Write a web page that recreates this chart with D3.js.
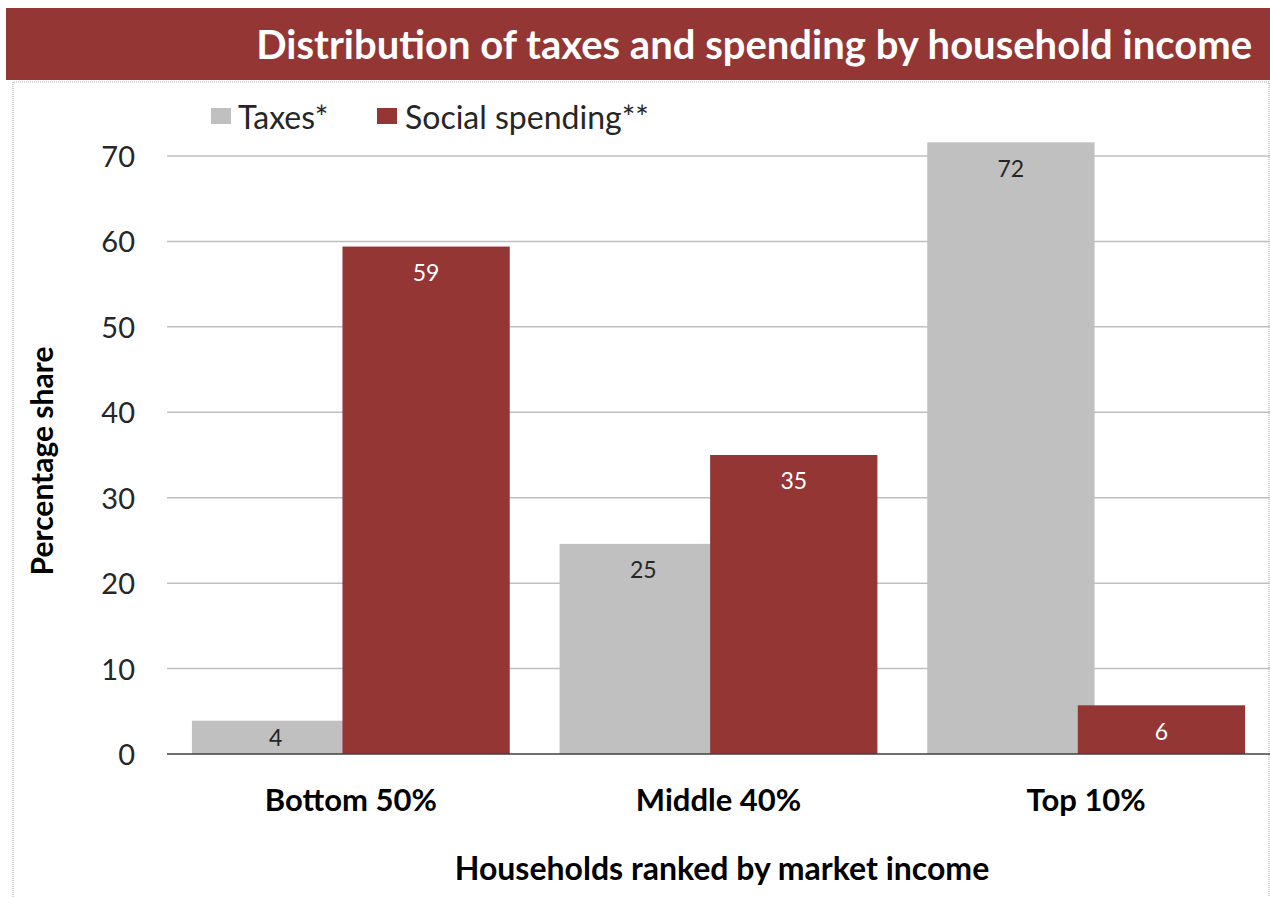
<!DOCTYPE html>
<html lang="en">
<head>
<meta charset="UTF-8">
<title>Distribution of taxes and spending by household income</title>
<script src="https://cdnjs.cloudflare.com/ajax/libs/d3/7.8.5/d3.min.js"></script>
<style>
  body { margin: 0; background: #fff; font-family: Lato, "Open Sans", sans-serif; }
  svg { display: block; }
</style>
</head>
<body>
<div id="chart"></div>
<script>
// data
const categories = ["Bottom 50%", "Middle 40%", "Top 10%"];
const seriesNames = ["Taxes*", "Social spending**"];
const taxes = [3.9, 24.6, 71.6];
const social = [59.4, 35.0, 5.7];
const yTicks = [0, 10, 20, 30, 40, 50, 60, 70];

const W = 1270, H = 897;
const colors = ["#c0c0c0", "#943634"];
const labelColors = ["#262626", "#ffffff"];

const svg = d3.select("#chart").append("svg").attr("width", W).attr("height", H);

// title bar
svg.append("rect").attr("x", 6).attr("y", 8).attr("width", W - 6).attr("height", 72).attr("fill", "#943634");
svg.append("text")
  .attr("x", 1252).attr("y", 59)
  .attr("text-anchor", "end")
  .attr("fill", "#fff")
  .attr("font-weight", "bold")
  .attr("font-size", 40)
  .text("Distribution of taxes and spending by household income");

// chart frame
svg.append("path")
  .attr("d", `M13,${H} V82 H${W - 1} V${H}`)
  .attr("fill", "none")
  .attr("stroke", "#a6a6a6")
  .attr("stroke-width", 1)
  .attr("stroke-dasharray", "1,1");

const plot = { left: 167, right: W, top: 156, bottom: 754 };

const y = d3.scaleLinear().domain([0, 70]).range([plot.bottom, plot.top]);
const x0 = d3.scaleBand().domain(categories).range([plot.left, plot.right]).paddingInner(0).paddingOuter(0);

const bandW = x0.bandwidth();
const barW = bandW * 0.455;
const overlap = barW * 0.1;
const groupW = barW * 2 - overlap;

// gridlines
svg.append("g")
  .selectAll("line")
  .data(yTicks.filter(d => d > 0))
  .join("line")
  .attr("x1", plot.left).attr("x2", plot.right)
  .attr("y1", d => y(d)).attr("y2", d => y(d))
  .attr("stroke", "#bfbfbf").attr("stroke-width", 1.5);

// y axis labels
const yAxis = d3.axisLeft(y).tickValues(yTicks).tickSize(0).tickPadding(0);
const yg = svg.append("g").attr("transform", `translate(135,0)`).call(yAxis);
yg.select(".domain").remove();
yg.selectAll("text")
  .attr("font-family", "Lato, sans-serif")
  .attr("font-size", 29)
  .attr("fill", "#262626")
  .attr("dy", "0.36em");

const series = [taxes, social];

series.forEach((vals, si) => {
  const g = svg.append("g");
  g.selectAll("rect")
    .data(categories)
    .join("rect")
    .attr("x", (c) => x0(c) + (bandW - groupW) / 2 + si * (barW - overlap))
    .attr("width", barW)
    .attr("y", (c, i) => y(vals[i]))
    .attr("height", (c, i) => y(0) - y(vals[i]))
    .attr("fill", colors[si]);

  g.selectAll("text")
    .data(categories)
    .join("text")
    .attr("x", (c) => x0(c) + (bandW - groupW) / 2 + si * (barW - overlap) + barW / 2)
    .attr("y", (c, i) => Math.min(y(vals[i]) + 26, y(0) - 16))
    .attr("dy", "0.36em")
    .attr("text-anchor", "middle")
    .attr("font-size", 23)
    .attr("fill", labelColors[si])
    .text((c, i) => d3.format(".0f")(vals[i]));
});

// baseline
svg.append("line")
  .attr("x1", plot.left).attr("x2", plot.right)
  .attr("y1", y(0)).attr("y2", y(0))
  .attr("stroke", "#404040").attr("stroke-width", 1.5);

// category labels
const xAxis = d3.axisBottom(x0).tickSize(0).tickPadding(0);
const xg = svg.append("g").attr("transform", `translate(0,${plot.bottom})`).call(xAxis);
xg.select(".domain").remove();
xg.selectAll("text")
  .attr("y", 46)
  .attr("dy", "0.36em")
  .attr("font-family", "Lato, sans-serif")
  .attr("font-size", 31)
  .attr("font-weight", "bold")
  .attr("fill", "#000");

// axis titles
svg.append("text")
  .attr("x", 722).attr("y", 868)
  .attr("dy", "0.36em")
  .attr("text-anchor", "middle")
  .attr("font-size", 32)
  .attr("font-weight", "bold")
  .text("Households ranked by market income");

svg.append("text")
  .attr("transform", "translate(42,461) rotate(-90)")
  .attr("dy", "0.36em")
  .attr("text-anchor", "middle")
  .attr("font-size", 30)
  .attr("font-weight", "bold")
  .text("Percentage share");

// legend
const legendX = [211, 377];
const lg = svg.append("g");
seriesNames.forEach((name, i) => {
  lg.append("rect")
    .attr("x", legendX[i]).attr("y", 108)
    .attr("width", 20).attr("height", 16)
    .attr("fill", colors[i]);
  lg.append("text")
    .attr("x", legendX[i] + (i === 0 ? 27 : 28)).attr("y", 117)
    .attr("dy", "0.36em")
    .attr("font-size", 32)
    .attr("fill", "#262626")
    .text(name);
});
</script>
</body>
</html>
